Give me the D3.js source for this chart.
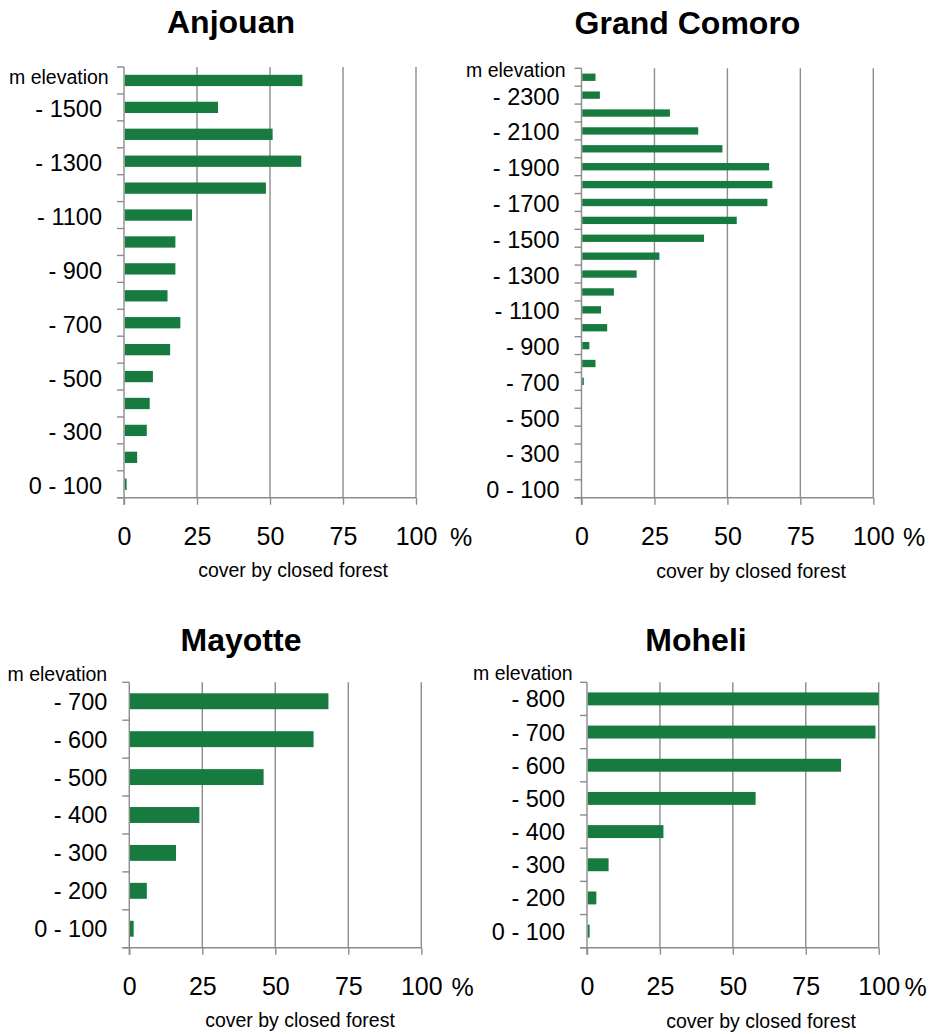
<!DOCTYPE html>
<html>
<head>
<meta charset="utf-8">
<script src="https://cdn.jsdelivr.net/npm/d3@7"></script>
<style>
  html, body { margin: 0; padding: 0; background: #fff; }
  svg { display: block; font-family: "Liberation Sans", Arial, sans-serif; }
</style>
</head>
<body>
<svg id="chart" width="938" height="1034"></svg>
<script>
// ---------- DATA ----------
const xTicks = [0, 25, 50, 75, 100];

const anjouanBands = ["- 1600","- 1500","- 1400","- 1300","- 1200","- 1100","- 1000","- 900",
                      "- 800","- 700","- 600","- 500","- 400","- 300","- 200","0 - 100"];
const anjouanValues = [61.1, 32.2, 50.9, 60.7, 48.6, 23.3, 17.6, 17.6,
                       14.9, 19.3, 15.8, 9.9, 8.8, 7.8, 4.5, 0.9];
const anjouanTickLabels = ["- 1500","- 1300","- 1100","- 900","- 700","- 500","- 300","0 - 100"];

const grandComoroBands = ["- 2400","- 2300","- 2200","- 2100","- 2000","- 1900","- 1800","- 1700",
                          "- 1600","- 1500","- 1400","- 1300","- 1200","- 1100","- 1000","- 900",
                          "- 800","- 700","- 600","- 500","- 400","- 300","- 200","0 - 100"];
const grandComoroValues = [4.8, 6.3, 30.3, 40.0, 48.3, 64.3, 65.4, 63.7,
                           53.2, 42.0, 26.7, 18.9, 11.1, 6.7, 8.8, 2.7,
                           4.8, 0.8, 0, 0, 0, 0, 0, 0];
const grandComoroTickLabels = ["- 2300","- 2100","- 1900","- 1700","- 1500","- 1300","- 1100",
                               "- 900","- 700","- 500","- 300","0 - 100"];

const mayotteBands = ["- 700","- 600","- 500","- 400","- 300","- 200","0 - 100"];
const mayotteValues = [68.2, 63.1, 46.0, 24.0, 16.0, 6.0, 1.5];
const mayotteTickLabels = mayotteBands;

const moheliBands = ["- 800","- 700","- 600","- 500","- 400","- 300","- 200","0 - 100"];
const moheliValues = [100, 98.9, 87.1, 57.8, 26.2, 7.4, 3.2, 0.9];
const moheliTickLabels = moheliBands;

const titles = ["Anjouan", "Grand Comoro", "Mayotte", "Moheli"];
const yAxisTitle = "m elevation";
const xAxisTitle = "cover by closed forest";
const unitLabel = "%";

// ---------- LAYOUT ----------
const panels = [
  { title: titles[0], bands: anjouanBands, values: anjouanValues, ticks: anjouanTickLabels,
    x0: 124, x1: 416, y0: 67, y1: 497.7, titleX: 231, titleY: 33,
    mX: 9, mY: 83.5, pctX: 450, coverX: 293, coverY: 577, pad: 0.58, labelShift: 1.5 },
  { title: titles[1], bands: grandComoroBands, values: grandComoroValues, ticks: grandComoroTickLabels,
    x0: 581.5, x1: 873.3, y0: 68.3, y1: 497.7, titleX: 687.5, titleY: 34,
    mX: 466, mY: 77, pctX: 903, coverX: 751, coverY: 578, pad: 0.59, labelShift: 1 },
  { title: titles[2], bands: mayotteBands, values: mayotteValues, ticks: mayotteTickLabels,
    x0: 129.3, x1: 421.3, y0: 682.3, y1: 947.7, titleX: 241, titleY: 651,
    mX: 7.5, mY: 681, pctX: 451.5, coverX: 300, coverY: 1027, pad: 0.58, labelShift: 0 },
  { title: titles[3], bands: moheliBands, values: moheliValues, ticks: moheliTickLabels,
    x0: 587, x1: 878.7, y0: 682.3, y1: 947.7, titleX: 696, titleY: 651,
    mX: 473, mY: 679.5, pctX: 904.5, coverX: 761, coverY: 1028, pad: 0.61, labelShift: 0 }
];

const barColor = "#177b40";
const lineColor = "#8c8c8c";
const svg = d3.select("#chart");

panels.forEach(p => {
  const g = svg.append("g");
  const x = d3.scaleLinear().domain([0, 100]).range([p.x0, p.x1]);
  const y = d3.scaleBand().domain(p.bands).range([p.y0, p.y1])
              .paddingInner(p.pad).paddingOuter(p.pad / 2);
  const step = y.step();

  // title
  g.append("text").attr("x", p.titleX).attr("y", p.titleY)
    .attr("text-anchor", "middle").attr("font-size", 32).attr("font-weight", "bold")
    .attr("fill", "#000").text(p.title);

  // vertical gridlines
  g.selectAll(".grid").data(xTicks.filter(d => d > 0)).join("line")
    .attr("x1", d => x(d)).attr("x2", d => x(d))
    .attr("y1", p.y0).attr("y2", p.y1)
    .attr("stroke", lineColor).attr("stroke-width", 1.4);

  // bars
  g.selectAll(".bar").data(p.bands.map((b, i) => ({ b, v: p.values[i] }))).join("rect")
    .attr("x", x(0) + 0.7)
    .attr("y", d => y(d.b))
    .attr("width", d => Math.max(0, x(d.v) - x(0) - 0.7))
    .attr("height", y.bandwidth())
    .attr("fill", barColor);

  // y axis line
  g.append("line").attr("x1", p.x0).attr("x2", p.x0).attr("y1", p.y0).attr("y2", p.y1 + 7)
    .attr("stroke", lineColor).attr("stroke-width", 1.4);
  // y boundary ticks
  const boundaries = d3.range(p.bands.length + 1).map(i => p.y0 + i * step);
  g.selectAll(".ytick").data(boundaries).join("line")
    .attr("x1", p.x0 - 7).attr("x2", p.x0)
    .attr("y1", d => d).attr("y2", d => d)
    .attr("stroke", lineColor).attr("stroke-width", 1.4);

  // y labels via axis
  const yAxis = d3.axisLeft(y).tickSize(0).tickPadding(22)
    .tickFormat(d => p.ticks.includes(d) ? d : "");
  const ya = g.append("g").attr("transform", `translate(${p.x0},${p.labelShift})`).call(yAxis);
  ya.select(".domain").remove();
  ya.selectAll("text").attr("font-size", 23.5).attr("fill", "#000")
    .attr("font-family", "'Liberation Sans', Arial, sans-serif").attr("dy", "0.36em");

  // x axis
  const xAxis = d3.axisBottom(x).tickValues(xTicks).tickSize(7).tickSizeOuter(0)
    .tickPadding(23).tickFormat(d3.format("d"));
  const xa = g.append("g").attr("transform", `translate(0,${p.y1})`).call(xAxis);
  xa.select(".domain").remove();
  xa.selectAll(".tick line").attr("stroke", lineColor).attr("stroke-width", 1.4);
  xa.selectAll("text").attr("font-size", 25).attr("fill", "#000")
    .attr("font-family", "'Liberation Sans', Arial, sans-serif");
  g.append("line").attr("x1", p.x0 - 7).attr("x2", p.x1).attr("y1", p.y1).attr("y2", p.y1)
    .attr("stroke", lineColor).attr("stroke-width", 1.4);

  // % label
  g.append("text").attr("x", p.pctX).attr("y", p.y1 + 48)
    .attr("font-size", 25).attr("fill", "#000").text(unitLabel);

  // m elevation
  g.append("text").attr("x", p.mX).attr("y", p.mY)
    .attr("font-size", 19.5).attr("fill", "#000").text(yAxisTitle);

  // x axis title
  g.append("text").attr("x", p.coverX).attr("y", p.coverY).attr("text-anchor", "middle")
    .attr("font-size", 19.5).attr("fill", "#000").text(xAxisTitle);
});
</script>
</body>
</html>
